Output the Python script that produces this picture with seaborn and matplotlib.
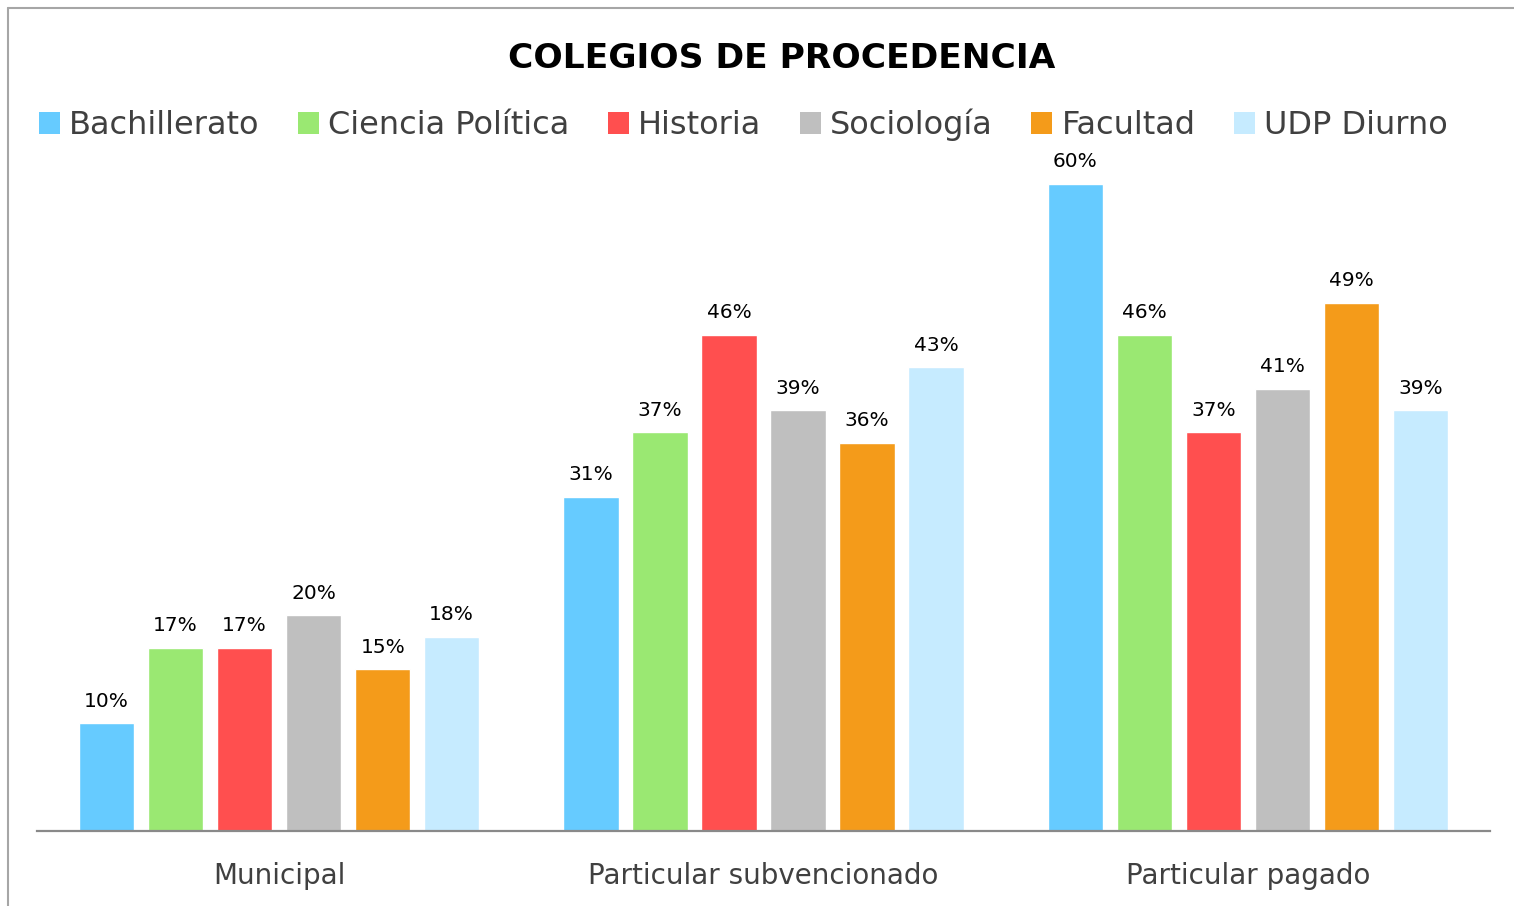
import pandas as pd
import numpy as np
import matplotlib.pyplot as plt
import seaborn as sns
from matplotlib.lines import Line2D
from matplotlib.patches import Patch

categories = ["Municipal", "Particular subvencionado", "Particular pagado"]
series = ["Bachillerato", "Ciencia Política", "Historia", "Sociología", "Facultad", "UDP Diurno"]
bachillerato = [0.10, 0.31, 0.60]
ciencia_politica = [0.17, 0.37, 0.46]
historia = [0.17, 0.46, 0.37]
sociologia = [0.20, 0.39, 0.41]
facultad = [0.15, 0.36, 0.49]
udp_diurno = [0.18, 0.43, 0.39]
colors = ["#66CBFF", "#9AE872", "#FF4F4F", "#BFBFBF", "#F49B1A", "#C6EBFF"]

rows = []
for name, vals in zip(series, [bachillerato, ciencia_politica, historia, sociologia, facultad, udp_diurno]):
	for cat, v in zip(categories, vals):
		rows.append({"cat": cat, "serie": name, "val": v})
df = pd.DataFrame(rows)

sns.set_style("white")
plt.rcParams["font.family"] = ["DejaVu Sans"]

fig = plt.figure(figsize=(15.14, 9.06), dpi=100)
ax = fig.add_axes([37/1514, 75/906, 1453/1514, 647/906])

sns.barplot(data=df, x="cat", y="val", hue="serie", order=categories, hue_order=series,
	palette=colors, width=0.855, gap=0.2, ax=ax, legend=False, saturation=1)

for c in ax.containers:
	ax.bar_label(c, labels=[f"{v*100:.0f}%" for v in c.datavalues], padding=9, fontsize=14.5, color="black")

ax.set_ylim(0, 0.6)
ax.set_xlim(-0.5, 2.5)
ax.set_yticks([])
ax.set_xlabel("")
ax.set_ylabel("")
for s in ["left", "right", "top"]:
	ax.spines[s].set_visible(False)
ax.spines["bottom"].set_color("#898989")
ax.spines["bottom"].set_linewidth(1.6)
ax.tick_params(axis="x", length=0, pad=22, labelsize=20, labelcolor="#404040")

fig.text(0.516, 0.935, "COLEGIOS DE PROCEDENCIA", ha="center", va="center", fontsize=24.8, fontweight="bold", color="black")

handles = [Patch(facecolor=col, edgecolor="none") for col in colors]
fig.legend(handles, series, loc="center", bbox_to_anchor=(0.491, 0.862), ncol=6, frameon=False,
	fontsize=23, labelcolor="#404040", handlelength=0.65, handleheight=0.65, handletextpad=0.3, columnspacing=1.2)

# frame
fig.add_artist(Line2D([7.5/1514, 7.5/1514], [0, 1 - 8/906], color="#A6A6A6", linewidth=1.5, transform=fig.transFigure))
fig.add_artist(Line2D([7.5/1514, 1], [1 - 8/906, 1 - 8/906], color="#A6A6A6", linewidth=1.5, transform=fig.transFigure))

fig.savefig("out.png", dpi=100)
